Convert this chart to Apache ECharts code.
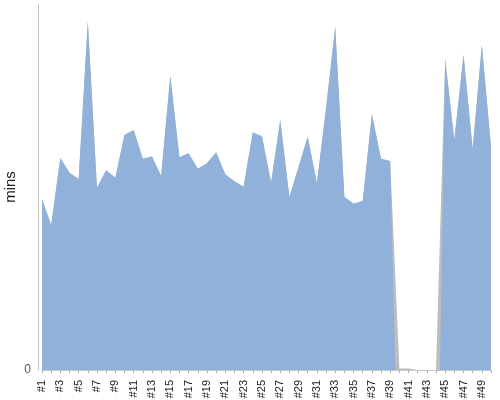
<!DOCTYPE html>
<html><head><meta charset="utf-8">
<script src="https://cdn.jsdelivr.net/npm/echarts@6/dist/echarts.min.js"></script>
<style>html,body{margin:0;padding:0;background:#fff}#c{width:500px;height:400px}</style>
</head><body><div id="c"></div>
<script>
var categories = [];
for (var i = 1; i <= 50; i++) categories.push('#' + i);
// main (blue) series; gap #40-#44 drops steeply below the axis (clipped)
var blueValues = [46.7,39.6,57.9,53.9,52.2,95.2,49.8,54.6,52.5,64.2,
  65.6,57.7,58.3,53.0,80.3,58.1,59.2,55.0,56.5,59.5,
  53.5,51.6,50.1,64.9,63.9,51.2,68.3,47.3,55.5,63.7,
  51.0,71.6,93.8,47.3,45.4,46.2,69.9,57.7,57.1,-46.7,
  null,null,null,-64,84.9,62.8,86.1,60.4,88.8,61.0];
// background (grey) series
var greyValues = [46.7,39.6,57.9,53.9,52.2,95.2,49.8,54.6,52.5,64.2,
  65.6,57.7,58.3,53.0,80.3,58.1,59.2,55.0,56.5,59.5,
  53.5,51.6,50.1,64.9,63.9,51.2,68.3,47.3,55.5,63.7,
  51.0,71.6,93.8,47.3,45.4,46.2,69.9,57.7,57.1,0.4,
  0.4,0,0,0,84.9,62.8,86.1,60.4,88.8,61.0];
var yName = 'mins';

var chart = echarts.init(document.getElementById('c'), null, {renderer:'canvas'});
chart.setOption({
  animation: false,
  grid: {left: 42, right: 9, top: 4, bottom: 30, containLabel: false, outerBoundsMode: 'none'},
  xAxis: {
    type: 'category', data: categories, boundaryGap: false, offset: 3,
    axisLine: {lineStyle: {color: '#c8c8c8'}},
    axisTick: {show: true, interval: 0, length: 3, lineStyle: {color: '#b0b0b0'}},
    axisLabel: {rotate: 90, interval: 1, fontSize: 11, color: '#222', fontFamily: 'Liberation Sans', margin: 7}
  },
  yAxis: {
    type: 'value', min: 0, max: 100, interval: 100, offset: 4,
    name: yName, nameLocation: 'middle', nameGap: 20, nameRotate: 90, nameMoveOverlap: false,
    nameTextStyle: {fontSize: 15, color: '#222', fontFamily: 'Liberation Sans'},
    axisLine: {show: true, lineStyle: {color: '#c0c0c0'}},
    axisTick: {show: false},
    splitLine: {show: false},
    axisLabel: {formatter: function(v){return v === 0 ? '0' : '';}, fontSize: 12, color: '#555', fontFamily: 'Liberation Sans', margin: 7, verticalAlign: 'middle', padding: [3,0,0,0]}
  },
  series: [
    {type: 'line', data: greyValues, symbol: 'none', lineStyle: {width: 0}, areaStyle: {color: '#bdbdbd', opacity: 1}, z: 1},
    {type: 'line', data: blueValues, symbol: 'none', connectNulls: false, lineStyle: {width: 0}, areaStyle: {color: '#8fb1da', opacity: 1}, z: 2}
  ]
});
</script></body></html>
